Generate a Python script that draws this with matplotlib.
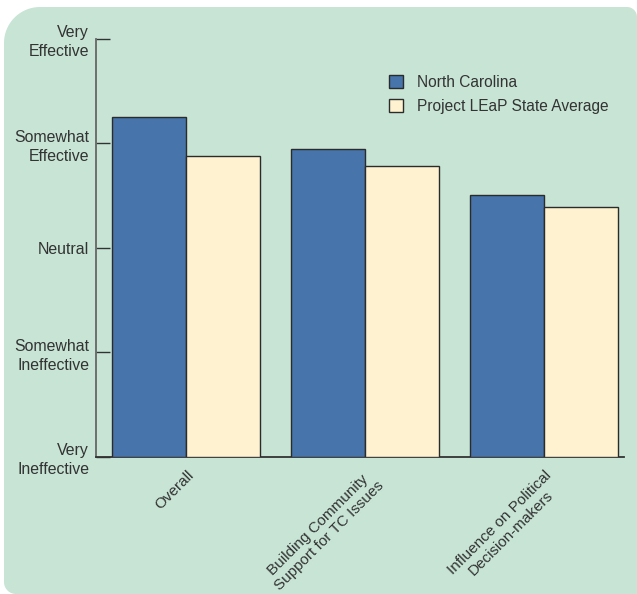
import numpy as np
import matplotlib
matplotlib.use("Agg")
import matplotlib.pyplot as plt
from matplotlib.patches import PathPatch
from matplotlib.path import Path

categories = ["Overall", "Building Community\nSupport for TC Issues", "Influence on Political\nDecision-makers"]
north_carolina = [4.25, 3.94, 3.50]
state_average = [3.88, 3.78, 3.39]
series_names = ["North Carolina", "Project LEaP State Average"]
y_ticks = [1, 2, 3, 4, 5]
y_tick_labels = ["Very\nIneffective", "Somewhat\nIneffective", "Neutral", "Somewhat\nEffective", "Very\nEffective"]

W, H = 637, 594
DPI = 100
FS = 11.4
plt.rcParams['font.family'] = ['Liberation Sans', 'DejaVu Sans']
fig = plt.figure(figsize=(W / DPI, H / DPI), dpi=DPI)
fig.patch.set_facecolor("white")

BG = "#c7e4d5"
BLUE = "#4674ab"
CREAM = "#fff2d0"
EDGE = "#2b2b2b"
TXT = "#333333"

# background rounded panel (pixel coords, y from top)
def arc(cx, cy, r, a0, a1, n=20):
    t = np.linspace(np.radians(a0), np.radians(a1), n)
    return [(cx + r * np.cos(t_), cy + r * np.sin(t_)) for t_ in t]

left, top, right, bottom = 4, 7, 637, 594
rtl, rtr, rbl = 36, 10, 12
pts = []
pts += arc(left + rtl, top + rtl, rtl, 180, 270)      # top-left (y downwards)
pts += arc(right - rtr, top + rtr, rtr, 270, 360)     # top-right
pts += [(right, bottom)]
pts += arc(left + rbl, bottom - rbl, rbl, 90, 180)    # bottom-left
pts = [(x / W, 1 - y / H) for x, y in pts]
pts.append(pts[0])
codes = [Path.MOVETO] + [Path.LINETO] * (len(pts) - 2) + [Path.CLOSEPOLY]
bgpatch = PathPatch(Path(pts, codes), transform=fig.transFigure,
                    facecolor=BG, edgecolor="none", zorder=-10)
fig.patches.append(bgpatch)

ax_l, ax_r = 96 / W, 623.6 / W
ax_t, ax_b = 1 - 38.5 / H, 1 - 456.7 / H
ax = fig.add_axes([ax_l, ax_b, ax_r - ax_l, ax_t - ax_b])
ax.set_facecolor("none")
ax.set_zorder(5)

x = np.arange(len(categories))
bw = 0.414
ax.bar(x - bw / 2, [v - 1 for v in north_carolina], bw, bottom=1, color=BLUE,
       edgecolor=EDGE, linewidth=1.0, label=series_names[0], zorder=3)
ax.bar(x + bw / 2, [v - 1 for v in state_average], bw, bottom=1, color=CREAM,
       edgecolor=EDGE, linewidth=1.0, label=series_names[1], zorder=3)

ax.set_xlim(-0.506, 2.445)
ax.set_ylim(1, 5)
ax.set_yticks(y_ticks)
ax.set_yticklabels(y_tick_labels, fontsize=FS, color=TXT, linespacing=1.35)
for lbl in ax.get_yticklabels():
    lbl.set_va('center_baseline')
ax.tick_params(axis='y', direction='in', length=10, width=1.0, color="#333333", pad=5)
ax.set_xticks(x)
ax.set_xticklabels(categories, fontsize=11, color=TXT, rotation=45,
                   ha='right', va='top', rotation_mode='anchor', linespacing=1.15)
for lbl in ax.get_xticklabels():
    lbl.set_multialignment('center')
ax.tick_params(axis='x', length=0, pad=8.0)

for s in ["top", "right"]:
    ax.spines[s].set_visible(False)
ax.spines["left"].set_color("#666666")
ax.spines["left"].set_linewidth(1.3)
ax.spines["bottom"].set_color("#333333")
ax.spines["bottom"].set_linewidth(1.3)

leg = ax.legend(loc='upper left', bbox_to_anchor=(389 / W, 1 - 75 / H),
                bbox_transform=fig.transFigure, frameon=False, fontsize=11.2,
                handlelength=0.9, handleheight=0.9, handletextpad=0.9,
                labelspacing=0.55, borderpad=0, borderaxespad=0)
for t in leg.get_texts():
    t.set_color(TXT)

fig.savefig("out.png", dpi=DPI, facecolor=fig.get_facecolor())
